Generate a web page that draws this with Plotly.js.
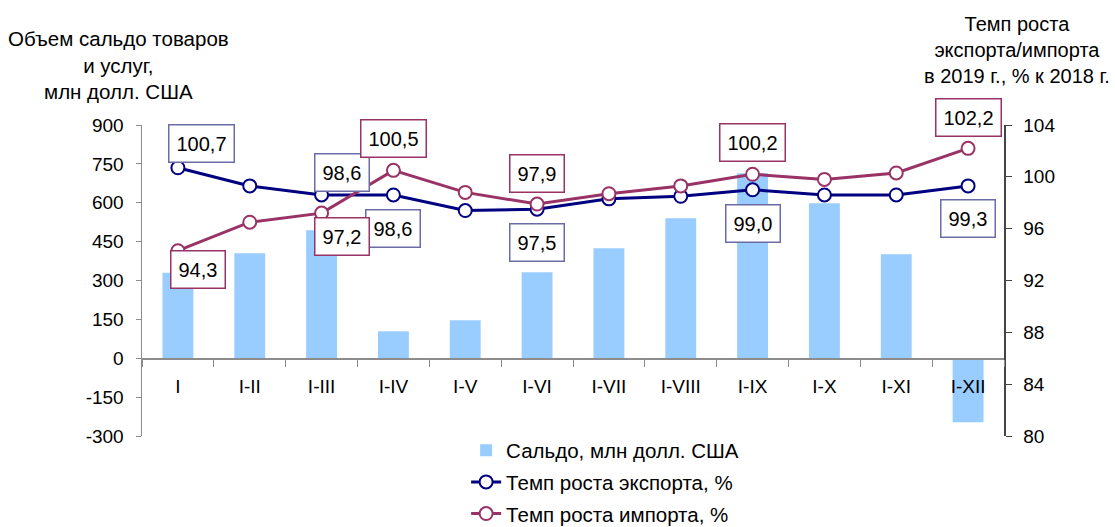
<!DOCTYPE html>
<html>
<head>
<meta charset="utf-8">
<script src="https://cdn.plot.ly/plotly-3.0.1.min.js"></script>
<style>
  html, body { margin: 0; padding: 0; background: #fff; }
  #chart { width: 1115px; height: 527px; }
</style>
</head>
<body>
<div id="chart"></div>
<script>
// периоды 2019 г.
const periods = ['I', 'I-II', 'I-III', 'I-IV', 'I-V', 'I-VI', 'I-VII', 'I-VIII', 'I-IX', 'I-X', 'I-XI', 'I-XII'];

// сальдо, млн долл. США
const balance = [330, 405, 494, 104, 147, 332, 424, 540, 714, 598, 401, -247];

// темп роста, % к 2018 г.
const exportGrowth = [100.7, 99.3, 98.6, 98.6, 97.4, 97.5, 98.3, 98.5, 99.0, 98.6, 98.6, 99.3];
const importGrowth = [94.3, 96.5, 97.2, 100.5, 98.8, 97.9, 98.7, 99.3, 100.2, 99.8, 100.3, 102.2];

// подписи шкалы слева (с обычным дефисом, как в оригинале)
const leftTicks = [-300, -150, 0, 150, 300, 450, 600, 750, 900];
const leftTickText = ['-300', '-150', '0', '150', '300', '450', '600', '750', '900'];

// какие точки подписаны
const exportLabelIdx = [0, 2, 3, 5, 8, 11];
const importLabelIdx = [0, 2, 3, 5, 8, 11];

// смещения подписей, px
const exportShift = { 0: [24, 24], 2: [20, 22], 3: [0, -34], 5: [0, -33], 8: [0, -34], 11: [0, -33] };
const importShift = { 0: [20, -19], 2: [20, -23], 3: [0, 32], 5: [0, 31], 8: [0, 32], 11: [0, 31] };

const FONT = 'Liberation Sans, Arial, sans-serif';
const NAVY = '#000080';
const PLUM = '#993366';

function fmt(v) {
    return v.toFixed(1).replace('.', ',');
}

const traces = [
    {
        x: periods,
        y: balance,
        type: 'bar',
        name: 'Сальдо, млн долл. США',
        marker: { color: '#99ccff' },
        width: 0.43,
        legendgroup: 'a'
    },
    {
        x: periods,
        y: exportGrowth,
        yaxis: 'y2',
        type: 'scatter',
        mode: 'lines+markers',
        name: 'Темп роста экспорта, %',
        line: { color: NAVY, width: 3 },
        marker: { symbol: 'circle', size: 13, color: '#ffffff', line: { color: NAVY, width: 2 } },
        legendgroup: 'b'
    },
    {
        x: periods,
        y: importGrowth,
        yaxis: 'y2',
        type: 'scatter',
        mode: 'lines+markers',
        name: 'Темп роста импорта, %',
        line: { color: PLUM, width: 3 },
        marker: { symbol: 'circle', size: 13, color: '#ffffff', line: { color: PLUM, width: 2 } },
        legendgroup: 'c'
    }
];

function labelBox(idx, values, shifts, border) {
    return idx.map(i => ({
        x: periods[i],
        y: values[i],
        xref: 'x',
        yref: 'y2',
        text: fmt(values[i]),
        showarrow: false,
        xshift: shifts[i][0],
        yshift: shifts[i][1],
        bgcolor: '#ffffff',
        bordercolor: border,
        borderwidth: 1.5,
        borderpad: 7,
        font: { family: FONT, size: 20, color: '#000' }
    }));
}

const annotations = [].concat(
    labelBox(exportLabelIdx, exportGrowth, exportShift, '#6b6ba8'),
    labelBox(importLabelIdx, importGrowth, importShift, PLUM),
    [
        {
            xref: 'paper', yref: 'paper', x: -0.027, y: 1.193,
            xanchor: 'center', yanchor: 'middle', showarrow: false,
            text: 'Объем сальдо товаров<br>и услуг,<br>млн долл. США',
            font: { family: FONT, size: 20.5, color: '#000' }
        },
        {
            xref: 'paper', yref: 'paper', x: 1.015, y: 1.241,
            xanchor: 'center', yanchor: 'middle', showarrow: false,
            text: 'Темп роста<br>экспорта/импорта<br>в 2019 г., % к 2018 г.',
            font: { family: FONT, size: 20, color: '#000' }
        }
    ]
);

const layout = {
    width: 1115,
    height: 527,
    margin: { l: 142, r: 111, t: 125, b: 91, autoexpand: false },
    paper_bgcolor: '#ffffff',
    plot_bgcolor: '#ffffff',
    font: { family: FONT, size: 19, color: '#000' },
    showlegend: true,
    legend: {
        x: 0.376, y: 0.018, xanchor: 'left', yanchor: 'top',
        traceorder: 'grouped', tracegroupgap: 2,
        font: { family: FONT, size: 20.5, color: '#000' },
        bgcolor: 'rgba(0,0,0,0)'
    },
    xaxis: {
        type: 'category',
        range: [-0.5, 11.5],
        anchor: 'free',
        position: 0.25,
        showline: true,
        linecolor: '#8c8c8c',
        linewidth: 1.5,
        ticks: 'outside',
        tickson: 'boundaries',
        ticklen: 7,
        tickcolor: '#8c8c8c',
        ticklabelstandoff: 10,
        showgrid: false,
        zeroline: false,
        tickfont: { family: FONT, size: 19, color: '#000' }
    },
    yaxis: {
        range: [-300, 900],
        tickmode: 'array',
        tickvals: leftTicks,
        ticktext: leftTickText,
        showline: true,
        linecolor: '#8c8c8c',
        linewidth: 1.5,
        ticks: 'outside',
        ticklen: 5,
        tickcolor: '#8c8c8c',
        ticklabelstandoff: 8,
        showgrid: false,
        zeroline: false,
        tickfont: { family: FONT, size: 19, color: '#000' }
    },
    yaxis2: {
        overlaying: 'y',
        side: 'right',
        range: [80, 104],
        dtick: 4,
        tick0: 80,
        showline: true,
        linecolor: '#444',
        linewidth: 1.5,
        ticks: 'outside',
        ticklen: 6,
        tickcolor: '#444',
        ticklabelstandoff: 8,
        showgrid: false,
        zeroline: false,
        tickfont: { family: FONT, size: 19, color: '#000' }
    },
    annotations: annotations,
    bargap: 0.57
};

Plotly.newPlot('chart', traces, layout, { staticPlot: true, displayModeBar: false });
</script>
</body>
</html>
